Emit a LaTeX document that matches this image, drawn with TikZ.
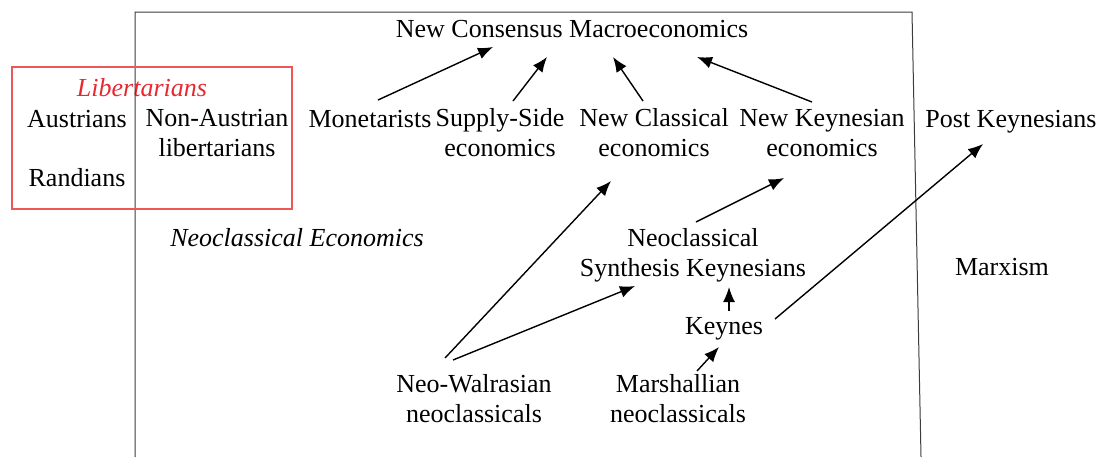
\documentclass[tikz,border=0pt]{standalone}
\usepackage{fontspec}
\setmainfont{Liberation Serif}
\usetikzlibrary{arrows.meta,calc}
\definecolor{libred}{RGB}{232,40,48}
\definecolor{boxred}{RGB}{236,88,88}
\definecolor{frame}{RGB}{60,60,60}

\begin{document}
\begin{tikzpicture}[x=0.5pt,y=-0.5pt,>={Latex[length=7.5pt,width=6pt]},
  every node/.style={anchor=base,inner sep=0pt,align=center,font=\fontsize{13}{14.8}\selectfont},
  conn/.style={->,line width=0.7pt}]
\useasboundingbox (0,0) rectangle (1101,457);
% two-line nodes sit on the baseline of their last line
\path
(572,37)   node (ncm) {New Consensus Macroeconomics}
(370,127)  node (mon) {Monetarists}
(500,156)  node (ssd) {Supply-Side\\economics}
(654,156)  node (ncl) {New Classical\\economics}
(822,156)  node (nkey) {New Keynesian\\economics}
(1011,127) node (pk) {Post Keynesians}
(142,96)   node[text=libred] (lib) {\itshape Libertarians}
(77,127)   node (aus) {Austrians}
(217,156)  node (nal) {Non-Austrian\\libertarians}
(77,186)   node (ran) {Randians}
(297,246)  node (neo) {\itshape Neoclassical Economics}
(693,276)  node (nsk) {Neoclassical\\Synthesis Keynesians}
(1002,275) node (mx) {Marxism}
(724,334)  node (key) {Keynes}
(474,422)  node (nw) {Neo-Walrasian\\neoclassicals}
(678,422)  node (mar) {Marshallian\\neoclassicals};

% frames
\draw[frame,line width=0.5pt] (135,457) -- (135,12) -- (912,12) -- (921,457);
\draw[boxred,line width=0.6pt] (12,67) rectangle (292,209);

% into the new consensus
\draw[conn] ($(mon.base)+(8,-27)$) -- ($(ncm.base)+(-79,10)$);
\draw[conn] ($(ssd.base)+(13,-55)$) -- ($(ncm.base)+(-25,20)$);
\draw[conn] ($(ncl.base)+(-11,-55)$) -- ($(ncm.base)+(41,20)$);
\draw[conn] ($(nkey.base)+(-10,-54)$) -- ($(ncm.base)+(125,20)$);
% lower half
\draw[conn] ($(nsk.base)+(3,-54)$) -- ($(nkey.base)+(-38,22)$);
\draw[conn] ($(nw.base)+(-29,-64)$) -- ($(ncl.base)+(-43,25)$);
\draw[conn] ($(nw.base)+(-21,-62)$) -- ($(nsk.base)+(-58,10)$);
\draw[conn] ($(key.base)+(5,-23)$) -- ($(nsk.base)+(36,11)$);
\draw[conn] ($(mar.base)+(19,-51)$) -- ($(key.base)+(-5,13)$);
\draw[conn] ($(key.base)+(51,-15)$) -- ($(pk.base)+(-28,17)$);
\end{tikzpicture}
\end{document}
